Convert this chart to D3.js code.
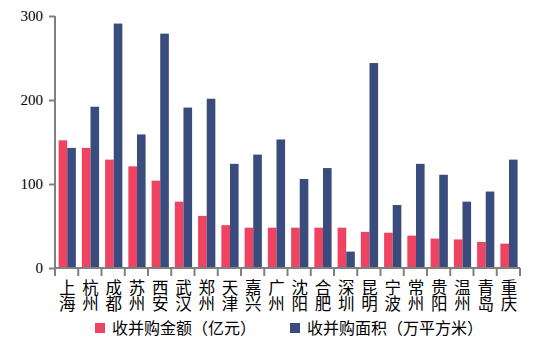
<!DOCTYPE html>
<html>
<head>
<meta charset="utf-8">
<script src="https://cdn.jsdelivr.net/npm/d3@7"></script>
<style>
    body { margin: 0; background: #fff; }
    .axis path, .axis line { stroke: #808080; stroke-width: 2; }
    .y.axis text { font-family: "Liberation Serif", serif; font-size: 15px; fill: #000; }
    .cat { font-family: "Noto Sans CJK SC", sans-serif; font-size: 16.5px; fill: #000; writing-mode: vertical-rl; }
    .legend text { font-family: "Noto Sans CJK SC", sans-serif; font-size: 16px; fill: #000; }
</style>
</head>
<body>
<div id="chart"></div>
<script>
"use strict";

var cities = ["上海", "杭州", "成都", "苏州", "西安", "武汉", "郑州", "天津", "嘉兴", "广州",
    "沈阳", "合肥", "深圳", "昆明", "宁波", "常州", "贵阳", "温州", "青岛", "重庆"];
var amount = [152, 143, 129, 121, 104, 79, 62, 51, 48, 48,
    48, 48, 48, 43, 42, 38.5, 35, 34, 31, 29];
var area = [143, 192, 291, 159, 279, 191, 201.5, 124, 135, 153,
    106, 119, 19.5, 244, 75, 124, 111, 79, 91, 129];
var seriesNames = ["收并购金额（亿元）", "收并购面积（万平方米）"];
var colors = ["#ee4462", "#3a4c7e"];
var yTicks = [0, 100, 200, 300];

(function () {
    var margin = { top: 16, right: 17, bottom: 85, left: 55 },
        width = 537 - margin.left - margin.right,
        height = 353 - margin.top - margin.bottom,
        svg, x0, x1, y, groups;

    svg = d3.select("#chart").append("svg")
        .attr("width", 537)
        .attr("height", 353)
        .append("g")
        .attr("transform", "translate(" + margin.left + "," + margin.top + ")");

    x0 = d3.scaleBand().domain(cities).range([0, width]).paddingInner(0).paddingOuter(0);
    x1 = d3.scaleBand().domain([0, 1]).range([3.6, x0.bandwidth() - 2.4]);
    y = d3.scaleLinear().domain([0, 300]).range([height, 0]);

    groups = svg.selectAll(".city")
        .data(cities).enter().append("g")
        .attr("class", "city")
        .attr("transform", function (d) {
            return "translate(" + x0(d) + ",0)";
        });

    groups.selectAll("rect")
        .data(function (d, i) {
            return [amount[i], area[i]];
        })
        .enter().append("rect")
        .attr("x", function (d, k) { return x1(k); })
        .attr("width", x1.bandwidth())
        .attr("y", function (d) { return y(d); })
        .attr("height", function (d) { return height - y(d); })
        .attr("fill", function (d, k) { return colors[k]; });

    svg.append("g")
        .attr("class", "y axis")
        .call(d3.axisLeft(y).tickValues(yTicks).tickSize(6).tickPadding(6).tickSizeOuter(0))
        .select(".domain").attr("d", "M0," + y(300) + "V" + height);

    var xAxis = svg.append("g")
        .attr("class", "x axis")
        .attr("transform", "translate(0," + height + ")");
    xAxis.append("path")
        .attr("d", "M0,0H" + width)
        .attr("fill", "none");
    xAxis.selectAll("line")
        .data(d3.range(cities.length + 1)).enter().append("line")
        .attr("x1", function (i) { return i * x0.step(); })
        .attr("x2", function (i) { return i * x0.step(); })
        .attr("y1", 0).attr("y2", 8);

    // two-character city names, stacked vertically
    groups.append("text")
        .attr("class", "cat")
        .attr("x", x0.bandwidth() / 2 + 0.5)
        .attr("y", height + 11)
        .text(function (d) { return d; });

    var legend = svg.append("g")
        .attr("class", "legend")
        .selectAll("g")
        .data(seriesNames).enter().append("g")
        .attr("transform", function (d, k) {
            return "translate(" + (40 + k * 195) + "," + (height + 55) + ")";
        });
    legend.append("rect")
        .attr("width", 10).attr("height", 10)
        .attr("fill", function (d, k) { return colors[k]; });
    legend.append("text")
        .attr("x", 17).attr("y", 11)
        .text(function (d) { return d; });
}());
</script>
</body>
</html>
